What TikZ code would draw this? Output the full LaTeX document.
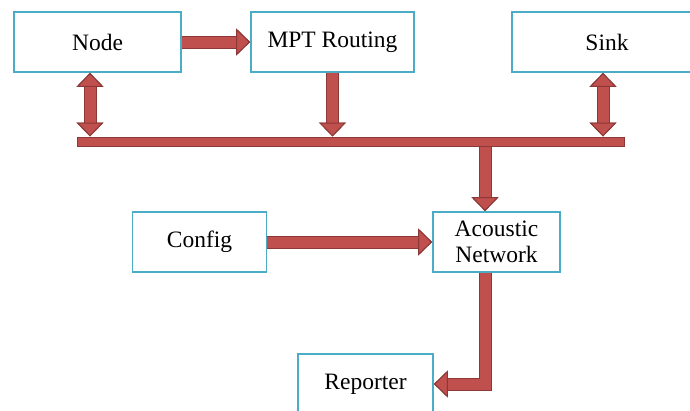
\documentclass[tikz,border=0pt]{standalone}
\usepackage{fontspec}
\setmainfont{Liberation Serif}
\usetikzlibrary{arrows.meta}
\definecolor{boxblue}{HTML}{4BACC6}
\definecolor{arrowred}{HTML}{C0504D}
\definecolor{arrowedge}{HTML}{8C3836}
\tikzset{
  block/.style={draw=boxblue, line width=1.8pt, fill=white, rectangle, minimum height=60pt, align=center, font=\fontsize{23.5}{26}\selectfont},
  fattip/.tip={Triangle[length=14pt, width=27pt, line width=1pt, fill=arrowred, color=arrowedge]},
  fatarrow/.style={line width=11pt, draw=arrowred, preaction={draw=arrowedge, line width=13pt}},
}
\begin{document}
\begin{tikzpicture}[x=1pt, y=-1pt]
        \useasboundingbox (0,0) rectangle (690,410);
        \node[block, minimum width=167pt] (node) at (97.5,42) {Node};
        \node[block, minimum width=163pt] (routing) at (332.5,42) {MPT Routing};
        \node[block, minimum width=190pt] (sink) at (607,42) {Sink};
        \node[fill=arrowred, draw=arrowedge, line width=1pt, minimum width=547pt, minimum height=9pt, inner sep=0pt] (bus) at (350.5,141.5) {};
        \node[block, minimum width=134pt] (config) at (199.5,242) {Config};
        \node[block, minimum width=127pt] (acoustic) at (496.5,242) {Acoustic\\Network};
        \node[block, minimum width=135pt] (reporter) at (365.5,384) {Reporter};

        \draw[fatarrow, -fattip] (node) -- (routing);
        \draw[fatarrow, fattip-fattip] ([xshift=-7.5pt]node.south) -- ([xshift=-7.5pt]node.south |- bus.north);
        \draw[fatarrow, -fattip] (routing.south) -- (routing.south |- bus.north);
        \draw[fatarrow, fattip-fattip] ([xshift=-4pt]sink.south) -- ([xshift=-4pt]sink.south |- bus.north);
        \draw[fatarrow, -fattip] ([xshift=-11.5pt]acoustic.north |- bus.south) -- ([xshift=-11.5pt]acoustic.north);
        \draw[fatarrow, -fattip] (config) -- (acoustic);
        \draw[fatarrow, -fattip] ([xshift=-11.5pt]acoustic.south) |- (reporter.east);
    \end{tikzpicture}
\end{document}
